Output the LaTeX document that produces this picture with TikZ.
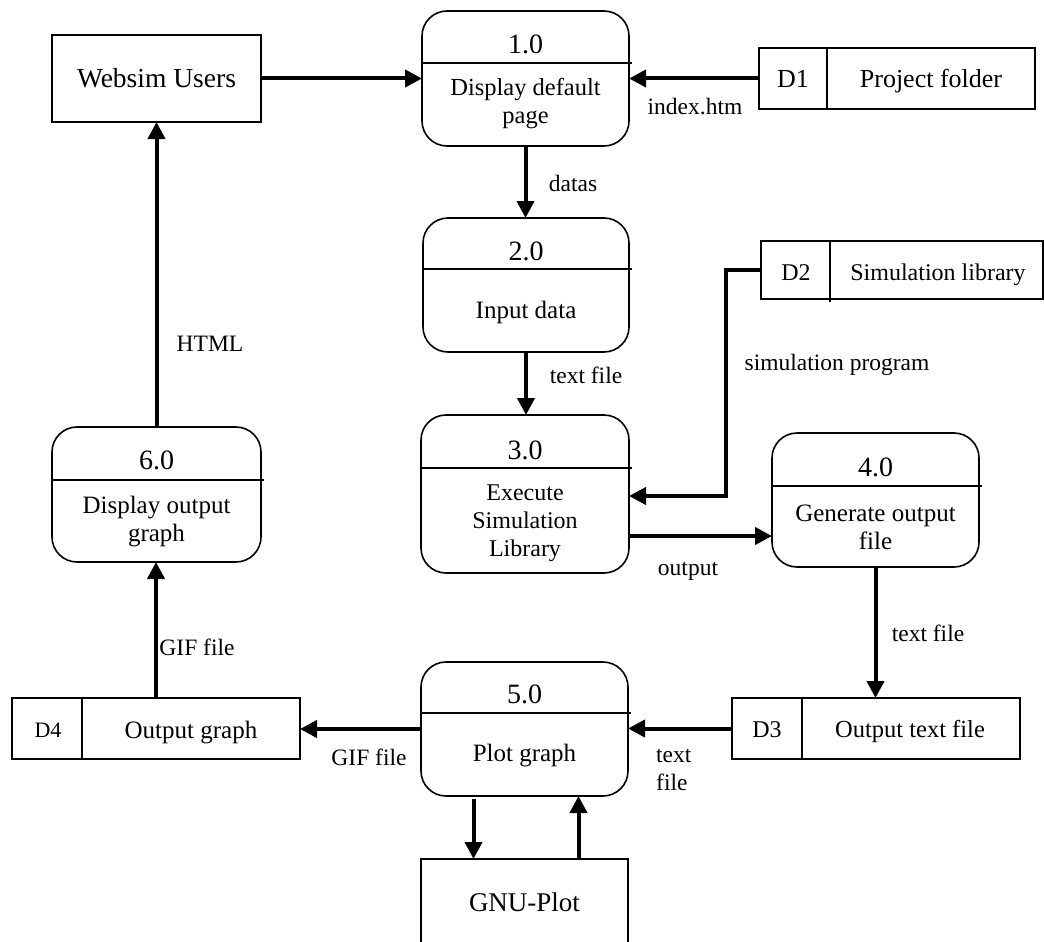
\documentclass[tikz,border=0pt]{standalone}
\usepackage{fontspec}
\setmainfont{Liberation Serif}
\usetikzlibrary{arrows.meta}
\newcommand{\fsz}[1]{\fontsize{#1}{28}\selectfont}

\begin{document}
\begin{tikzpicture}[x=1pt,y=-1pt,
  box/.style={draw, line width=1.6pt, inner sep=0pt, outer sep=0pt},
  proc/.style={box, rounded corners=25pt},
  store/.style={box},
  sep/.style={line width=1.6pt},
  flow/.style={line width=4pt, -{Triangle[length=17pt,width=17pt]}},
  txt/.style={inner sep=0pt, text height=17pt, text depth=0pt},
  num/.style={inner sep=0pt, font=\fsz{28}, text height=19pt, text depth=0pt},
  multi/.style={inner sep=0pt, align=center},
  lbl/.style={inner sep=0pt, font=\fsz{23.5}, text height=16pt, text depth=0pt},
]
\useasboundingbox (0,0) rectangle (1044,942);
\clip (0,0) rectangle (1044,942);

% ---------- external entities ----------
\node[box, minimum width=209pt, minimum height=87pt] (web) at (156.5,78.5) {};
\node[txt, font=\fsz{27.5}, text height=19pt] (webtxt) at (156.5,78) {Websim Users};
\node[box, minimum width=207pt, minimum height=88pt] (gnu) at (524.5,903) {};
\node[txt, font=\fsz{27}, text height=19pt] (gnutxt) at (524.5,902) {GNU-Plot};

% ---------- processes ----------
\node[proc, minimum width=207pt, minimum height=135pt] (p1) at (525.5,78.5) {};
\draw[sep] (422,63) -- (632,63);
\node[num] (p1num) at (525.5,44) {1.0};
\node[multi, font=\fsz{24.5}] (p1txt) at (525.5,104) {Display default\\page};

\node[proc, minimum width=206pt, minimum height=134pt] (p2) at (526,285) {};
\draw[sep] (423,269) -- (632,269);
\node[num] (p2num) at (526,251) {2.0};
\node[txt, font=\fsz{25}] (p2txt) at (526,310) {Input data};

\node[proc, minimum width=208pt, minimum height=158pt] (p3) at (525,494) {};
\draw[sep] (421,468) -- (632,468);
\node[num] (p3num) at (525,450) {3.0};
\node[multi, font=\fsz{24}] (p3txt) at (525,523) {Execute\\Simulation\\Library};

\node[proc, minimum width=207pt, minimum height=134pt] (p4) at (875.5,500) {};
\draw[sep] (772,486) -- (982,486);
\node[num] (p4num) at (875.5,467) {4.0};
\node[multi, font=\fsz{25}] (p4txt) at (875.5,527) {Generate output\\file};

\node[proc, minimum width=207pt, minimum height=134pt] (p5) at (524.5,729) {};
\draw[sep] (421,713) -- (631,713);
\node[num] (p5num) at (524.5,694) {5.0};
\node[txt, font=\fsz{25}] (p5txt) at (524.5,753) {Plot graph};

\node[proc, minimum width=209pt, minimum height=135pt] (p6) at (156.5,494.5) {};
\draw[sep] (52,480) -- (264,480);
\node[num] (p6num) at (156.5,460) {6.0};
\node[multi, font=\fsz{25}] (p6txt) at (156.5,522) {Display output\\graph};

% ---------- data stores ----------
\node[store, minimum width=276pt, minimum height=61pt] (d1) at (897,78.5) {};
\draw[sep] (827,48) -- (827,109);
\node[txt, font=\fsz{26}] (d1id) at (793,79) {D1};
\node[txt, font=\fsz{26}] (d1txt) at (931,79) {Project folder};

\node[store, minimum width=282pt, minimum height=58pt] (d2) at (902,270) {};
\draw[sep] (830,241) -- (830,302);
\node[txt, font=\fsz{24}, text height=16pt] (d2id) at (796,272) {D2};
\node[txt, font=\fsz{24}, text height=16pt] (d2txt) at (938,272) {Simulation library};

\node[store, minimum width=288pt, minimum height=61pt] (d3) at (876,728.5) {};
\draw[sep] (802,698) -- (802,759);
\node[txt, font=\fsz{24}, text height=16pt] (d3id) at (767,729) {D3};
\node[txt, font=\fsz{24.5}, text height=16pt] (d3txt) at (910,729) {Output text file};

\node[store, minimum width=288pt, minimum height=61pt] (d4) at (156,728.5) {};
\draw[sep] (82,698) -- (82,759);
\node[txt, font=\fsz{22}, text height=15pt] (d4id) at (48,730) {D4};
\node[txt, font=\fsz{25}, text height=16pt] (d4txt) at (191,730) {Output graph};

% ---------- data flows ----------
\draw[flow] (web.east) -- (web.east -| p1.west);
\draw[flow] (d1.west) -- (d1.west -| p1.east);
\draw[flow] (p1.south) -- (p1.south |- p2.north);
\draw[flow] (p2.south) -- (p2.south |- p3.north);
\coordinate (bend) at (726,496);
\draw[flow] (d2.west) -| (bend) -- (bend -| p3.east);
\coordinate (out3) at ([yshift=-42pt]p3.east);
\draw[flow] (out3) -- (out3 -| p4.west);
\draw[flow] (p4.south) -- (p4.south |- d3.north);
\draw[flow] (d3.west) -- (d3.west -| p5.east);
\draw[flow] (p5.west) -- (p5.west -| d4.east);
\draw[flow] (d4.north) -- (d4.north |- p6.south);
\draw[flow] (p6.north) -- (p6.north |- web.south);
\coordinate (plotdown) at ([xshift=-51pt, yshift=-3pt]p5.south);
\draw[flow] (plotdown) -- (plotdown |- gnu.north);
\coordinate (plotup) at ([xshift=54pt]gnu.north);
\draw[flow] (plotup) -- (plotup |- p5.south);

% ---------- flow labels ----------
\node[lbl] (lidx) at (695,106) {index.htm};
\node[lbl] (ldatas) at (573,183) {datas};
\node[lbl] (ltext1) at (586,375) {text file};
\node[lbl] (lsim) at (837,362) {simulation program};
\node[lbl] (lout) at (688,567) {output};
\node[lbl] (ltext2) at (928,633) {text file};
\node[inner sep=0pt, font=\fsz{23.5}, align=left, anchor=west] (ltext3) at (656,770) {text\\file};
\node[lbl] (lgif1) at (369,757) {GIF file};
\node[lbl] (lgif2) at (197,647) {GIF file};
\node[lbl] (lhtml) at (210,343) {HTML};
\end{tikzpicture}
\end{document}
